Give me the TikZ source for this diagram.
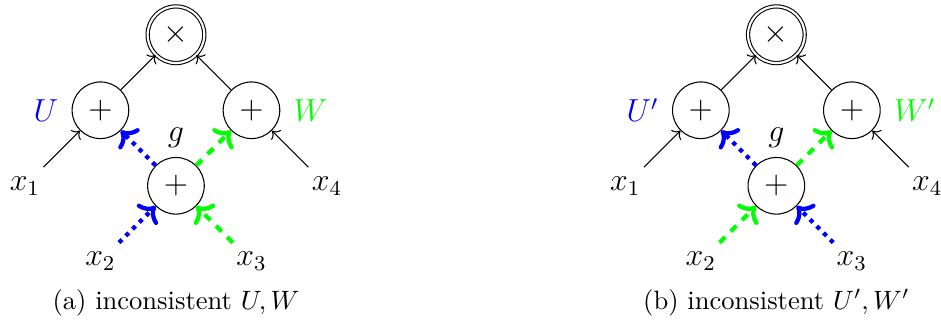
\documentclass[tikz,border=0pt]{standalone}
\usepackage{amsmath,amssymb}
\usepackage{tikz}
\usetikzlibrary{arrows.meta,positioning}
\tikzset{
  ckt gate/.style={circle,draw,minimum size=0.75cm,inner sep=0pt},
  ckt root/.style={ckt gate,double,double distance=0.8pt},
  ckt wire/.style={->},
  ckt blue/.style={blue,ultra thick,dotted,->},
  ckt green/.style={green,ultra thick,dashed,->},
  ckt tag/.style={label distance=1.5pt},
  ckt caption/.style={font=\normalsize,align=center}
}

\begin{document}
\begin{tikzpicture}[font=\large]
  \useasboundingbox (-2.33,0.46) rectangle (10.13,-3.90);
  % (a) inconsistent U, W
  \node[ckt root] (prod-a) at (0,0) {$\times$};
  \node[ckt gate,label={[ckt tag,blue]left:$U$}] (u-a) at (-1,-1) {$+$};
  \node[ckt gate,label={[ckt tag,green]right:$W$}] (w-a) at (1,-1) {$+$};
  \node[ckt gate,label=above:$g$] (g-a) at (0,-2) {$+$};
  \node (x1-a) at (-2,-2) {$x_1$};
  \node (x4-a) at (2,-2) {$x_4$};
  \node (x2-a) at (-1,-3) {$x_2$};
  \node (x3-a) at (1,-3) {$x_3$};
  \draw[ckt wire] (u-a) -- (prod-a);
  \draw[ckt wire] (w-a) -- (prod-a);
  \draw[ckt wire] (x1-a) -- (u-a);
  \draw[ckt wire] (x4-a) -- (w-a);
  \draw[ckt blue] (g-a) -- (u-a);
  \draw[ckt green] (g-a) -- (w-a);
  \draw[ckt blue] (x2-a) -- (g-a);
  \draw[ckt green] (x3-a) -- (g-a);
  \node[ckt caption] (cap-a) at (0,-3.55) {(a) inconsistent $U,W$};

  % (b) inconsistent U', W'
  \begin{scope}[xshift=7.95cm]
    \node[ckt root] (prod-b) at (0,0) {$\times$};
    \node[ckt gate,label={[ckt tag,blue]left:$U'$}] (u-b) at (-1,-1) {$+$};
    \node[ckt gate,label={[ckt tag,green]right:$W'$}] (w-b) at (1,-1) {$+$};
    \node[ckt gate,label=above:$g$] (g-b) at (0,-2) {$+$};
    \node (x1-b) at (-2,-2) {$x_1$};
    \node (x4-b) at (2,-2) {$x_4$};
    \node (x2-b) at (-1,-3) {$x_2$};
    \node (x3-b) at (1,-3) {$x_3$};
    \draw[ckt wire] (u-b) -- (prod-b);
    \draw[ckt wire] (w-b) -- (prod-b);
    \draw[ckt wire] (x1-b) -- (u-b);
    \draw[ckt wire] (x4-b) -- (w-b);
    \draw[ckt blue] (g-b) -- (u-b);
    \draw[ckt green] (g-b) -- (w-b);
    \draw[ckt green] (x2-b) -- (g-b);
    \draw[ckt blue] (x3-b) -- (g-b);
    \node[ckt caption] (cap-b) at (0,-3.55) {(b) inconsistent $U',W'$};
  \end{scope}
\end{tikzpicture}
\end{document}
